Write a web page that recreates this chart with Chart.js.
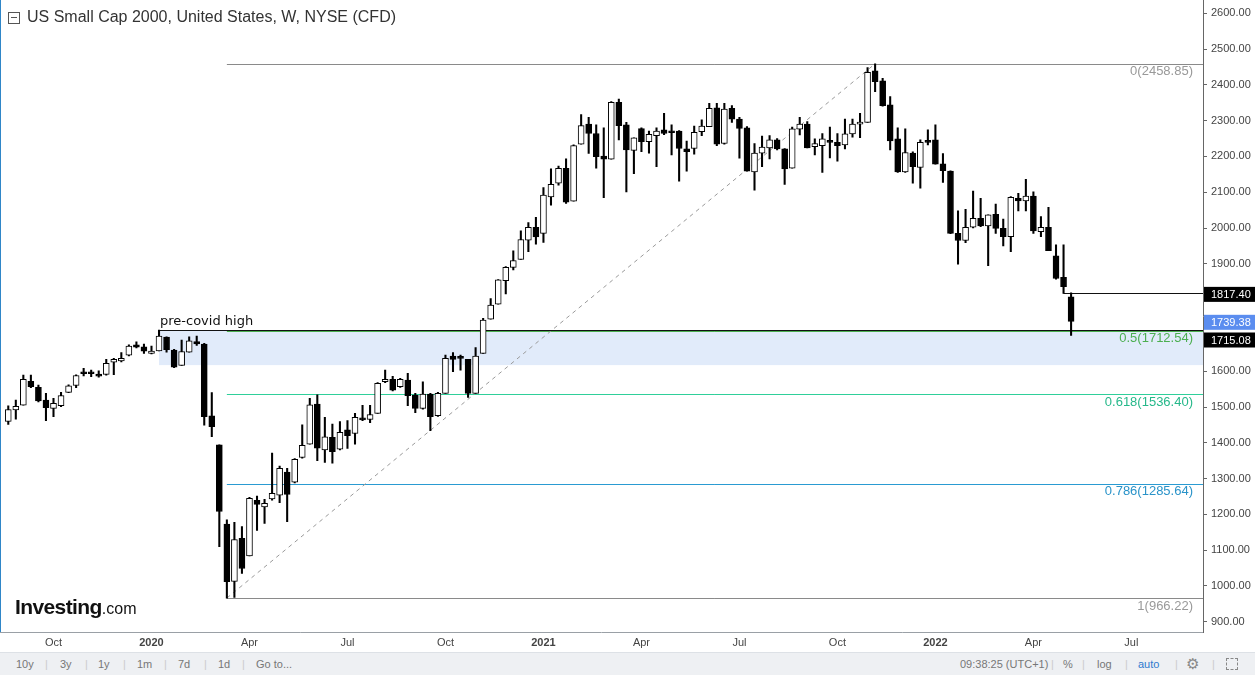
<!DOCTYPE html>
<html>
<head>
<meta charset="utf-8">
<script src="https://cdn.jsdelivr.net/npm/chart.js@4.4.1/dist/chart.umd.min.js"></script>
<style>
  html, body { margin: 0; padding: 0; background: #fff; }
  #wrap { position: relative; width: 1255px; height: 675px; overflow: hidden; font-family: "Liberation Sans", Arial, sans-serif; }
  #chart { position: absolute; left: 0; top: 0; }
  #title { position: absolute; left: 27px; top: 8px; font-size: 16px; color: #333; }
  #icon { position: absolute; left: 8px; top: 12px; width: 10px; height: 10px; border: 1px solid #555; }
  #icon:after { content: ''; position: absolute; left: 2px; top: 4px; width: 6px; height: 1px; background: #555; }
  #toolbar { position: absolute; left: 0; top: 652px; width: 1255px; height: 23px; background: #eef0f3; border-top: 1px solid #dde1e6; font-size: 11px; color: #777; }
  #toolbar span { position: absolute; top: 5px; }
  #toolbar .sep { color: #ccc; }
  #logo { position: absolute; left: 15px; top: 595px; color: #111; }
  #logo b { font-size: 21px; letter-spacing: -0.6px; }
  #logo i { font-style: normal; font-size: 16px; }
</style>
</head>
<body>
<div id="wrap">
  <canvas id="chart" width="1255" height="675"></canvas>
  <div id="icon"></div>
  <div id="title">US Small Cap 2000, United States, W, NYSE (CFD)</div>
  <div id="logo"><b>Investing</b><i>.com</i></div>
  <div id="toolbar">
    <span style="left:16px">10y</span><span class="sep" style="left:45px">|</span>
    <span style="left:60px">3y</span><span class="sep" style="left:85px">|</span>
    <span style="left:98px">1y</span><span class="sep" style="left:123px">|</span>
    <span style="left:137px">1m</span><span class="sep" style="left:164px">|</span>
    <span style="left:178px">7d</span><span class="sep" style="left:204px">|</span>
    <span style="left:218px">1d</span><span class="sep" style="left:242px">|</span>
    <span style="left:256px">Go to...</span>
    <span style="left:960px">09:38:25 (UTC+1)</span><span class="sep" style="left:1051px">|</span>
    <span style="left:1063px">%</span><span class="sep" style="left:1082px">|</span>
    <span style="left:1097px">log</span><span class="sep" style="left:1125px">|</span>
    <span style="left:1138px; color:#2e7bcf">auto</span><span class="sep" style="left:1175px">|</span>
    <span style="left:1186px; top:2px; font-size:15px; color:#888">&#9881;</span><span class="sep" style="left:1212px">|</span>
    <span style="left:1226px; top:5px; width:10px; height:10px; border:1px dashed #888"></span>
  </div>
</div>
<script>
// weekly candles, Aug 2019 - May 2022
const opens = [1460,1492,1505,1572,1555,1519,1496,1504,1541,1560,1598,1596,1592,1591,1625,1629,1645,1674,1668,1650,
  1657,1695,1659,1616,1653,1683,1676,1475,1394,1173,1013,1133,1084,1239,1221,1243,1254,1318,1290,1359,
  1396,1508,1380,1415,1382,1436,1426,1468,1465,1482,1571,1577,1557,1575,1533,1496,1536,1476,1538,1642,
  1640,1633,1538,1650,1745,1787,1853,1890,1912,1966,2002,1985,2087,2125,2167,2075,2234,2290,2264,2201,
  2192,2351,2288,2217,2278,2241,2258,2274,2271,2271,2221,2222,2269,2283,2336,2236,2334,2304,2280,2157,
  2209,2224,2246,2221,2167,2276,2290,2227,2230,2245,2239,2232,2263,2290,2295,2439,2411,2344,2249,2157,
  2209,2169,2245,2246,2179,2159,1985,1965,2002,2027,2006,2038,1999,1976,2083,2076,2089,1990,2002,1922,
  1862,1808];
const highs = [1503,1519,1589,1589,1561,1538,1524,1541,1562,1590,1608,1603,1601,1633,1636,1652,1674,1682,1676,1670,
  1715,1696,1661,1687,1696,1698,1678,1540,1394,1185,1178,1166,1248,1251,1242,1371,1335,1329,1356,1450,
  1524,1534,1471,1452,1459,1462,1482,1505,1505,1568,1603,1586,1580,1594,1538,1570,1538,1541,1645,1652,
  1645,1633,1666,1748,1803,1856,1892,1936,1992,2015,2030,2113,2165,2173,2193,2232,2317,2309,2288,2280,
  2353,2360,2295,2252,2280,2271,2280,2320,2288,2272,2243,2285,2302,2348,2348,2348,2342,2309,2283,2236,
  2257,2258,2250,2222,2282,2309,2297,2249,2264,2282,2264,2304,2304,2320,2448,2458.85,2418,2367,2280,2277,
  2213,2246,2274,2288,2208,2160,2048,2052,2103,2083,2037,2067,2025,2088,2097,2136,2101,2032,2058,1953,
  1953,1819];
const lows = [1451,1466,1505,1554,1514,1462,1473,1501,1540,1554,1587,1585,1583,1589,1590,1626,1643,1665,1650,1648,
  1657,1653,1610,1616,1653,1672,1449,1417,1110,966.22,968,1035,1084,1155,1175,1240,1233,1180,1288,1357,
  1396,1350,1345,1343,1380,1384,1396,1462,1456,1482,1568,1545,1555,1504,1484,1494,1434,1474,1538,1599,
  1603,1527,1538,1650,1745,1787,1816,1883,1912,1934,1955,1960,2064,2120,2069,2075,2234,2208,2167,2085,
  2192,2246,2101,2152,2213,2209,2171,2261,2204,2131,2159,2206,2258,2283,2230,2234,2295,2195,2159,2106,
  2171,2193,2218,2122,2167,2260,2224,2204,2155,2196,2187,2221,2254,2252,2295,2381,2340,2218,2155,2155,
  2125,2111,2232,2178,2127,1984,1899,1959,2000,2004,1895,1985,1950,1934,2048,2048,1985,1976,1937,1857,
  1817.4,1700];
const closes = [1493,1502,1577,1557,1517,1498,1510,1532,1559,1588,1593,1593,1586,1622,1633,1636,1670,1667,1656,1656,
  1698,1660,1611,1655,1685,1676,1473,1445,1208,1012,1130,1049,1245,1228,1231,1259,1329,1256,1354,1393,
  1506,1385,1417,1375,1429,1420,1471,1464,1479,1566,1577,1547,1577,1532,1496,1536,1473,1538,1636,1633,
  1636,1538,1642,1743,1785,1855,1890,1909,1968,2002,1975,2092,2122,2167,2072,2230,2286,2264,2199,2192,
  2351,2286,2218,2252,2241,2262,2271,2264,2266,2222,2213,2267,2285,2334,2234,2332,2304,2278,2159,2209,
  2226,2246,2221,2165,2277,2290,2224,2236,2249,2239,2230,2263,2290,2295,2435,2409,2342,2243,2157,2211,
  2171,2239,2239,2178,2160,1985,1965,2002,2027,2006,2037,1999,1976,2086,2076,2089,1992,2002,1937,1859,
  1836,1739.38];

const tickLabels = ['Oct','2020','Apr','Jul','Oct','2021','Apr','Jul','Oct','2022','Apr','Jul'];
const tickIdx = [6,19,32,45,58,71,84,97,110,123,136,149];

const fibRatios = ['0','0.5','0.618','0.786','1'];
const fibPrices = [2458.85,1712.54,1536.40,1285.64,966.22];
const fibColors = ['#8a8a8a','#4caf50','#2fcf9a','#2a9bd2','#8a8a8a'];
const fibLabelColors = ['#999','#4caf50','#26b88a','#2a93c9','#999'];

const preCovidHigh = 1715.08;
const bandLow = 1617;
const prevLevel = 1817.40;
const lastPrice = 1739.38;

// week slots incl. empty space on the right
const weeks = [];
const start = new Date(2019, 7, 19);
for (let i = 0; i < 159; i++) {
    const d = new Date(start.getTime() + i * 7 * 86400000);
    weeks.push(d.toISOString().slice(0, 10));
}

const overlay = {
    id: 'overlay',
    beforeDatasetsDraw(chart) {
        const { ctx, chartArea: a, scales: { x, y } } = chart;
        ctx.save();
        // blue band under pre-covid high
        const bx = x.getPixelForValue(20);
        const yTop = y.getPixelForValue(preCovidHigh);
        ctx.fillStyle = 'rgba(200,218,246,0.55)';
        ctx.fillRect(bx, yTop, a.right - bx, y.getPixelForValue(bandLow) - yTop);

        // fib lines
        const fx = x.getPixelForValue(29);
        fibPrices.forEach((p, i) => {
            const py = Math.round(y.getPixelForValue(p)) + 0.5;
            ctx.strokeStyle = fibColors[i];
            ctx.lineWidth = 1;
            ctx.beginPath();
            ctx.moveTo(fx, py);
            ctx.lineTo(a.right, py);
            ctx.stroke();
        });

        // dashed trend line low -> high
        ctx.strokeStyle = '#9a9a9a';
        ctx.setLineDash([4, 4]);
        ctx.beginPath();
        ctx.moveTo(x.getPixelForValue(29), y.getPixelForValue(fibPrices[4]));
        ctx.lineTo(x.getPixelForValue(115), y.getPixelForValue(fibPrices[0]));
        ctx.stroke();
        ctx.setLineDash([]);

        // pre-covid high line
        const ly = Math.round(yTop) + 0.5;
        ctx.strokeStyle = '#111';
        ctx.beginPath();
        ctx.moveTo(bx, ly);
        ctx.lineTo(a.right, ly);
        ctx.stroke();

        // previous level line
        const py2 = Math.round(y.getPixelForValue(prevLevel)) + 0.5;
        ctx.beginPath();
        ctx.moveTo(x.getPixelForValue(140), py2);
        ctx.lineTo(a.right, py2);
        ctx.stroke();
        ctx.restore();
    },
    afterDraw(chart) {
        const { ctx, chartArea: a, scales: { x, y } } = chart;
        ctx.save();
        ctx.font = '13px "Liberation Sans", Arial, sans-serif';
        ctx.textAlign = 'right';
        ctx.textBaseline = 'middle';
        fibPrices.forEach((p, i) => {
            ctx.fillStyle = fibLabelColors[i];
            ctx.fillText(fibRatios[i] + '(' + p.toFixed(2) + ')', a.right - 10, y.getPixelForValue(p) + 8);
        });

        ctx.textAlign = 'left';
        ctx.fillStyle = '#111';
        ctx.font = '13px "DejaVu Sans", sans-serif';
        ctx.fillText('pre-covid high', x.getPixelForValue(20) + 1, y.getPixelForValue(preCovidHigh) - 8);

        // x axis line + labels
        ctx.strokeStyle = '#9aa0a6';
        ctx.beginPath();
        ctx.moveTo(0, a.bottom + 0.5);
        ctx.lineTo(a.right, a.bottom + 0.5);
        ctx.stroke();
        ctx.textAlign = 'center';
        tickLabels.forEach((t, i) => {
            const bold = /^\d{4}$/.test(t);
            ctx.font = (bold ? 'bold ' : '') + '11px "Liberation Sans", Arial, sans-serif';
            ctx.fillStyle = '#444';
            ctx.fillText(t, x.getPixelForValue(tickIdx[i]), a.bottom + 11);
        });

        // price boxes on the axis
        const boxes = [
            [prevLevel, y.getPixelForValue(prevLevel) + 1, '#000'],
            [lastPrice, y.getPixelForValue(lastPrice) + 1, '#5b8def'],
            [preCovidHigh, y.getPixelForValue(preCovidHigh) + 10, '#000']
        ];
        ctx.font = '11px "Liberation Sans", Arial, sans-serif';
        ctx.textAlign = 'left';
        boxes.forEach(b => {
            ctx.fillStyle = b[2];
            ctx.fillRect(a.right + 1, b[1] - 7.5, 54, 15);
            ctx.fillStyle = '#fff';
            ctx.fillText(b[0].toFixed(2), a.right + 8, b[1] + 0.5);
        });

        // left frame line
        ctx.fillStyle = '#2f86c8';
        ctx.fillRect(0, 0, 1, a.bottom);
        ctx.restore();
    }
};

new Chart(document.getElementById('chart'), {
    type: 'bar',
    data: {
        labels: weeks,
        datasets: [
            {
                label: 'body',
                data: opens.map((o, i) => [Math.min(o, closes[i]), Math.max(o, closes[i])]),
                backgroundColor: opens.map((o, i) => closes[i] >= o ? '#fff' : '#000'),
                borderColor: '#000',
                borderWidth: 1,
                borderSkipped: false,
                barThickness: 6,
                minBarLength: 2,
                grouped: false,
                order: 0
            },
            {
                label: 'wick',
                data: lows.map((l, i) => [l, highs[i]]),
                backgroundColor: '#000',
                barThickness: 1.4,
                grouped: false,
                order: 1
            }
        ]
    },
    options: {
        responsive: false,
        animation: false,
        layout: { padding: { left: 4.5, right: 0, top: 0, bottom: 43 } },
        plugins: { legend: { display: false }, tooltip: { enabled: false } },
        scales: {
            x: { type: 'category', display: false, offset: true },
            y: {
                position: 'right',
                min: 871.5,
                max: 2636.9,
                ticks: {
                    stepSize: 100,
                    includeBounds: false,
                    color: '#444',
                    padding: 4,
                    font: { size: 11, family: '"Liberation Sans", Arial, sans-serif' },
                    callback: v => (v === 1700 || v === 1800) ? '' : v.toFixed(2)
                },
                grid: { drawOnChartArea: false, drawTicks: true, tickLength: 4, color: '#666' },
                border: { display: true, color: '#666' },
                afterFit: s => { s.width = 52; s.paddingTop = 0; s.paddingBottom = 0; }
            }
        }
    },
    plugins: [overlay]
});
</script>
</body>
</html>
